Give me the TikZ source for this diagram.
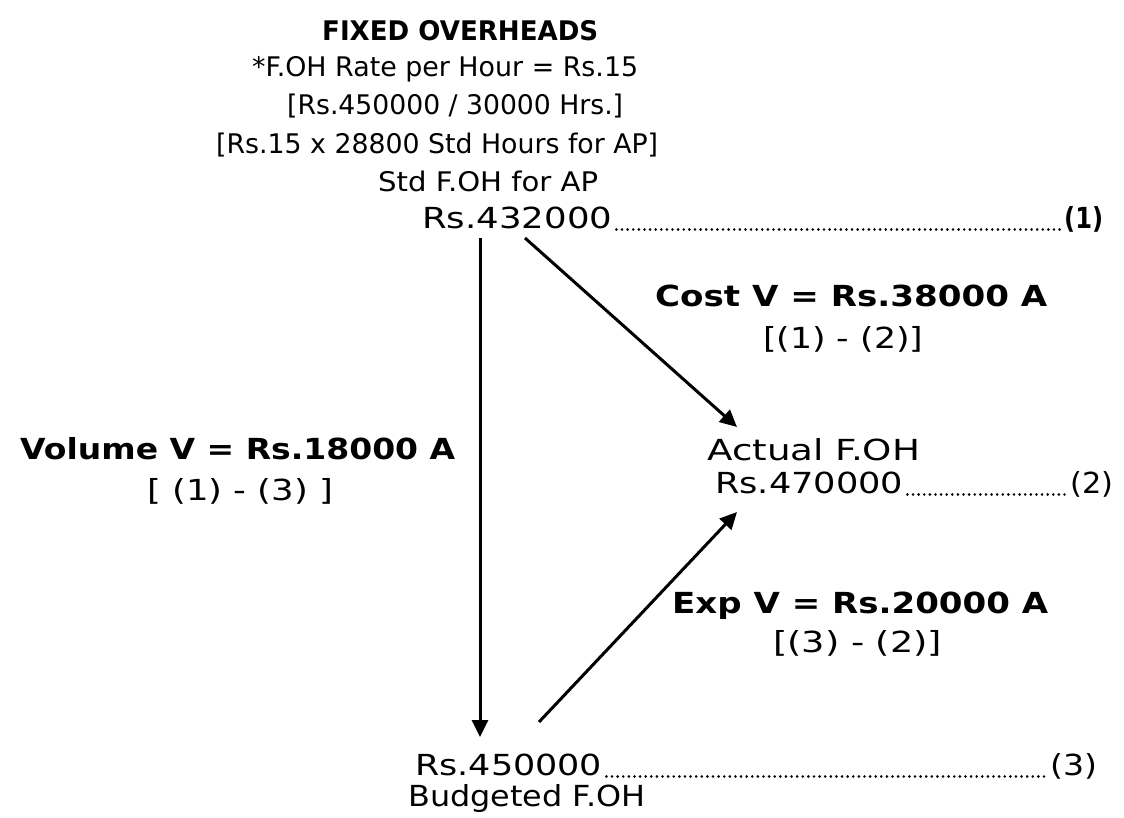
\documentclass[tikz,border=0pt]{standalone}
\usepackage{fontspec}
\usepackage{graphicx}
\setmainfont{DejaVu Sans}
\usetikzlibrary{arrows.meta}
\newcommand\fitw[2]{\resizebox{#1}{\height}{#2}}
\begin{document}
\begin{tikzpicture}[x=1pt,y=-1pt,
  txt/.style={inner sep=0pt, font=\fontsize{29}{34}\selectfont, anchor=base west},
  htxt/.style={inner sep=0pt, font=\fontsize{27}{32}\selectfont, anchor=base west},
  btxt/.style={inner sep=0pt, font=\fontsize{29}{34}\selectfont\bfseries, anchor=base west},
  arr/.style={line width=3pt, -{Triangle[length=17pt,width=16pt]}},
  lead/.style={line width=2.8pt, dash pattern=on 0.01pt off 5.6pt, line cap=round}]
\useasboundingbox (0,0) rectangle (1124,817);
% header
\node[btxt, font=\fontsize{27}{32}\selectfont\bfseries] (title) at (322,40) {\fitw{276pt}{FIXED OVERHEADS}};
\node[htxt] (rate) at (252,76) {\fitw{386pt}{*F.OH Rate per Hour = Rs.15}};
\node[htxt] (calc1) at (287,114) {\fitw{336pt}{[Rs.450000 / 30000 Hrs.]}};
\node[htxt] (calc2) at (216,153) {\fitw{442pt}{[Rs.15 x 28800 Std Hours for AP]}};
\node[htxt] (stdlbl) at (378,191) {\fitw{220pt}{Std F.OH for AP}};
\node[txt] (std) at (422,228) {\fitw{190pt}{Rs.432000}};
\node[btxt] (p1) at (1064,228) {\fitw{39pt}{(1)}};
% actual
\node[txt] (actlbl) at (707,460) {\fitw{213pt}{Actual F.OH}};
\node[txt] (act) at (715,493) {\fitw{188pt}{Rs.470000}};
\node[txt] (p2) at (1070,493) {\fitw{43pt}{(2)}};
% budget
\node[txt] (bud) at (415,775) {\fitw{187pt}{Rs.450000}};
\node[txt] (p3) at (1050,775) {\fitw{47pt}{(3)}};
\node[txt] (budlbl) at (408,806) {\fitw{237pt}{Budgeted F.OH}};
% variance labels
\node[btxt] (vol) at (20,459) {\fitw{435pt}{Volume V = Rs.18000 A}};
\node[txt] (volf) at (147,500) {\fitw{186pt}{[ (1) - (3) ]}};
\node[btxt] (cost) at (655,306) {\fitw{392pt}{Cost V = Rs.38000 A}};
\node[txt] (costf) at (763,348) {\fitw{160pt}{[(1) - (2)]}};
\node[btxt] (exp) at (672,613) {\fitw{376pt}{Exp V = Rs.20000 A}};
\node[txt] (expf) at (773,652) {\fitw{169pt}{[(3) - (2)]}};
% leaders
\draw[lead] ([xshift=4pt,yshift=-1.5pt]std.base east) -- ([xshift=-3pt,yshift=-1.5pt]p1.base west);
\draw[lead] ([xshift=4pt,yshift=-1.5pt]act.base east) -- ([xshift=-3pt,yshift=-1.5pt]p2.base west);
\draw[lead] ([xshift=4pt,yshift=-1.5pt]bud.base east) -- ([xshift=-3pt,yshift=-1.5pt]p3.base west);
% connectors
\coordinate (vtop) at (480,238);
\coordinate (vbot) at (480,737);
\coordinate (ctop) at (525,238);
\coordinate (cend) at (737,427);
\coordinate (ebot) at (539,722);
\coordinate (eend) at (737,512);
\draw[arr] (vtop) -- (vbot);
\draw[arr] (ctop) -- (cend);
\draw[arr] (ebot) -- (eend);
\end{tikzpicture}
\end{document}
